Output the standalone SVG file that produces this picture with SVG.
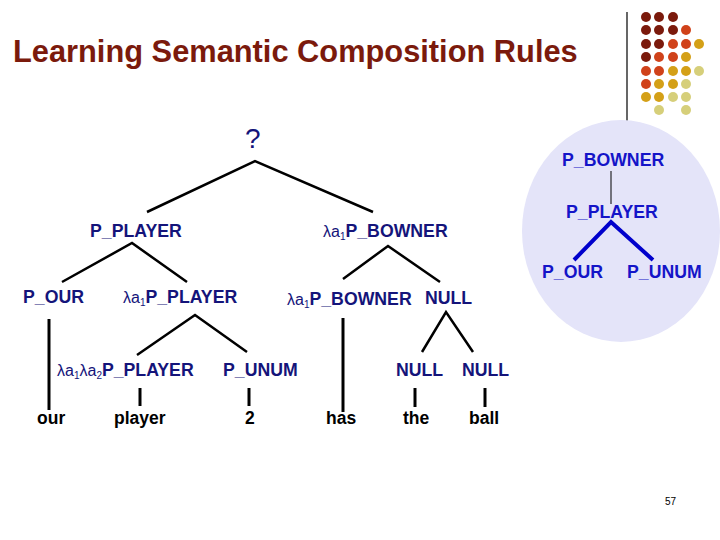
<svg xmlns="http://www.w3.org/2000/svg" width="720" height="540" viewBox="0 0 720 540">
<style>
.t{font-family:"Liberation Sans",Arial,sans-serif;font-weight:bold;font-size:17.7px;fill:#14147a}
.l{font-weight:normal;font-size:16px}
.s{font-weight:normal;font-size:10px}
.b{font-family:"Liberation Sans",Arial,sans-serif;font-weight:bold;font-size:17.7px;fill:#1414c8}
.w{font-family:"Liberation Sans",Arial,sans-serif;font-weight:bold;font-size:17.5px;fill:#000}
.e{stroke:#000;stroke-width:2.5;fill:none}
.v{stroke:#000;stroke-width:3;fill:none}
.d0{fill:#7b1a0c}.d1{fill:#d0421a}.d2{fill:#d4a017}.d3{fill:#d6cf7a}
</style>
<rect width="720" height="540" fill="#fff"/>
<g id="title"><text x="13" y="62" style="font-family:'Liberation Sans',Arial,sans-serif;font-weight:bold;font-size:30.8px;fill:#7b1a0c">Learning Semantic Composition Rules</text></g>
<g id="decor">
<line x1="627" y1="12" x2="627" y2="132" stroke="#000" stroke-width="1.2"/>
<circle class="d0" cx="646" cy="17" r="5"/><circle class="d0" cx="659" cy="17" r="5"/><circle class="d0" cx="673" cy="17" r="5"/>
<circle class="d0" cx="646" cy="30" r="5"/><circle class="d0" cx="659" cy="30" r="5"/><circle class="d0" cx="673" cy="30" r="5"/><circle class="d1" cx="686" cy="30" r="5"/>
<circle class="d0" cx="646" cy="44" r="5"/><circle class="d0" cx="659" cy="44" r="5"/><circle class="d1" cx="673" cy="44" r="5"/><circle class="d1" cx="686" cy="44" r="5"/><circle class="d2" cx="699" cy="44" r="5"/>
<circle class="d0" cx="646" cy="57" r="5"/><circle class="d1" cx="659" cy="57" r="5"/><circle class="d1" cx="673" cy="57" r="5"/><circle class="d2" cx="686" cy="57" r="5"/>
<circle class="d1" cx="646" cy="71" r="5"/><circle class="d1" cx="659" cy="71" r="5"/><circle class="d2" cx="673" cy="71" r="5"/><circle class="d2" cx="686" cy="71" r="5"/><circle class="d3" cx="699" cy="71" r="5"/>
<circle class="d1" cx="646" cy="84" r="5"/><circle class="d2" cx="659" cy="84" r="5"/><circle class="d2" cx="673" cy="84" r="5"/><circle class="d3" cx="686" cy="84" r="5"/>
<circle class="d2" cx="646" cy="97" r="5"/><circle class="d2" cx="659" cy="97" r="5"/><circle class="d3" cx="673" cy="97" r="5"/><circle class="d3" cx="686" cy="97" r="5"/>
<circle class="d3" cx="659" cy="110" r="5"/><circle class="d3" cx="686" cy="110" r="5"/>
</g>
<g id="inset">
<ellipse cx="621" cy="231" rx="99" ry="111" fill="#e4e4f9"/>
<line x1="611" y1="171" x2="611" y2="204" stroke="#000" stroke-width="1"/>
<polyline points="574,260 611,222 653,260" fill="none" stroke="#0000cc" stroke-width="4"/>
<text class="b" x="562" y="166">P_BOWNER</text>
<text class="b" x="566" y="218">P_PLAYER</text>
<text class="b" x="542" y="278">P_OUR</text>
<text class="b" x="627" y="278">P_UNUM</text>
</g>
<g id="connectors">
<polyline class="e" points="147,212 255,161 373,212"/>
<polyline class="e" points="62,282 132,243 187,282"/>
<polyline class="e" points="343,279 388,246 440,282"/>
<polyline class="e" points="137,355 195,315 247,352"/>
<polyline class="e" points="422,352 446,312 473,352"/>
<line class="v" x1="49" y1="319" x2="49" y2="410"/>
<line class="v" x1="343" y1="318" x2="343" y2="412"/>
<line class="v" x1="140" y1="388" x2="140" y2="406"/>
<line class="v" x1="249" y1="388" x2="249" y2="406"/>
<line class="v" x1="415" y1="388" x2="415" y2="407"/>
<line class="v" x1="485" y1="388" x2="485" y2="407"/>
</g>
<g id="n-root"><text class="t" x="245" y="148" style="font-size:28px;font-weight:normal">?</text></g>
<g id="n-pplayer"><text class="t" x="90" y="237">P_PLAYER</text></g>
<g id="n-la1pbowner"><text class="t" x="323" y="237"><tspan class="l">λa</tspan><tspan class="s" dy="3">1</tspan><tspan dy="-3">P_BOWNER</tspan></text></g>
<g id="n-pour"><text class="t" x="23" y="303">P_OUR</text></g>
<g id="n-la1pplayer"><text class="t" x="123" y="303"><tspan class="l">λa</tspan><tspan class="s" dy="3">1</tspan><tspan dy="-3">P_PLAYER</tspan></text></g>
<g id="n-la1pbowner2"><text class="t" x="287" y="305"><tspan class="l">λa</tspan><tspan class="s" dy="3">1</tspan><tspan dy="-3">P_BOWNER</tspan></text></g>
<g id="n-null1"><text class="t" x="425" y="304">NULL</text></g>
<g id="n-la1la2"><text class="t" x="57" y="376"><tspan class="l">λa</tspan><tspan class="s" dy="3">1</tspan><tspan class="l" dy="-3">λa</tspan><tspan class="s" dy="3">2</tspan><tspan dy="-3">P_PLAYER</tspan></text></g>
<g id="n-punum"><text class="t" x="223" y="376">P_UNUM</text></g>
<g id="n-null2"><text class="t" x="396" y="376">NULL</text></g>
<g id="n-null3"><text class="t" x="462" y="376">NULL</text></g>
<g id="leaves">
<text class="w" x="37" y="424">our</text>
<text class="w" x="114" y="424">player</text>
<text class="w" x="245" y="424">2</text>
<text class="w" x="326" y="424">has</text>
<text class="w" x="403" y="424">the</text>
<text class="w" x="469" y="424">ball</text>
</g>
<g id="pagenum"><text x="665" y="505" style="font-family:'Liberation Sans',Arial,sans-serif;font-size:10px;fill:#000">57</text></g>
</svg>
